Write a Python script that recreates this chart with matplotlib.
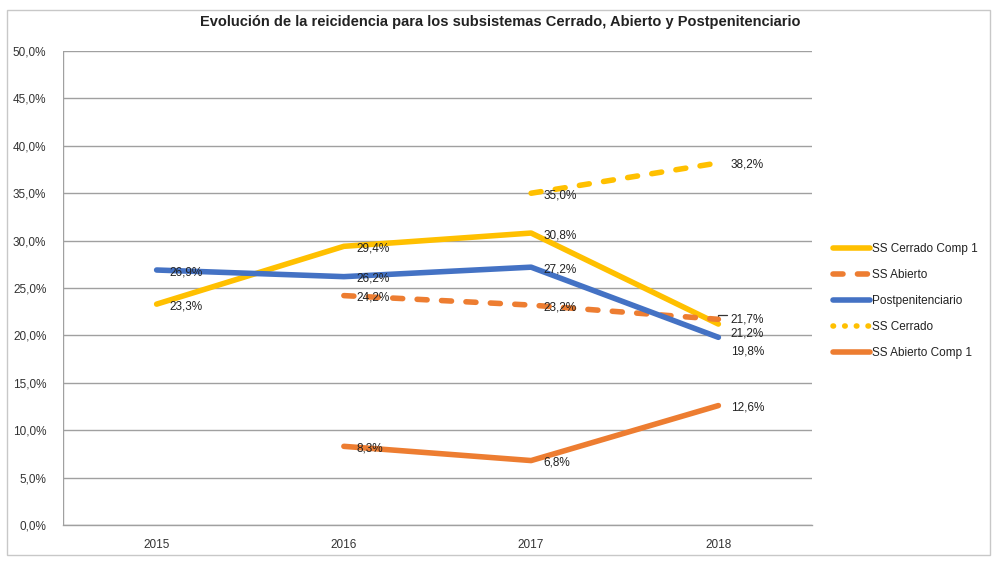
import matplotlib.pyplot as plt
from matplotlib.lines import Line2D
from matplotlib.patches import Rectangle
from matplotlib.ticker import FuncFormatter

plt.rcParams['font.family'] = ['Liberation Sans Narrow', 'Liberation Sans', 'DejaVu Sans']

years = ['2015', '2016', '2017', '2018']
cerrado_comp1 = [23.3, 29.4, 30.8, 21.2]
abierto = [None, 24.2, 23.2, 21.7]
postpenitenciario = [26.9, 26.2, 27.2, 19.8]
cerrado = [None, None, 35.0, 38.2]
abierto_comp1 = [None, 8.3, 6.8, 12.6]

yellow = '#FFC000'
orange = '#ED7D31'
blue = '#4472C4'
dash = (0, (1.8, 2.6))

fig = plt.figure(figsize=(10, 5.62), dpi=100)
fig.patches.append(Rectangle((0.007, 0.012), 0.983, 0.97, transform=fig.transFigure,
                             fill=False, edgecolor='#C8C8C8', linewidth=1))
ax = fig.add_axes([0.063, 0.0658, 0.749, 0.8434])

x = list(range(len(years)))


def pts(vals):
    xs = [i for i, v in enumerate(vals) if v is not None]
    ys = [v for v in vals if v is not None]
    return xs, ys


series = [
    ('cc1', cerrado_comp1, yellow, '-'),
    ('ab', abierto, orange, dash),
    ('post', postpenitenciario, blue, '-'),
    ('cer', cerrado, yellow, dash),
    ('ac1', abierto_comp1, orange, '-'),
]
for name, vals, color, ls in series:
    xs, ys = pts(vals)
    ax.plot(xs, ys, color=color, linestyle=ls, linewidth=4, solid_capstyle='round',
            dash_capstyle='round', zorder=3)

# data labels: extra vertical nudges (points) where labels would collide
label_nudge = {
    ('ab', 3): 1.5,
    ('cc1', 3): -5,
    ('post', 3): -8.5,
}
for name, vals, color, ls in series:
    for i, v in enumerate(vals):
        if v is None:
            continue
        dy = label_nudge.get((name, i), 0)
        ax.annotate(f'{v:.1f}%'.replace('.', ','), (i, v), xytext=(9, -1.5 + dy),
                    textcoords='offset points', fontsize=8.5, color='#222222',
                    va='center', ha='left', zorder=4)

# small leader line next to 21,7%
ax.annotate('', xy=(3, abierto[3]), xytext=(6, 3), textcoords='offset points',
            arrowprops=dict(arrowstyle='-', color='#333333', lw=0.9, shrinkA=0, shrinkB=0,
                            connectionstyle='angle,angleA=0,angleB=90,rad=0'),
            zorder=2)

ax.set_xlim(-0.5, 3.5)
ax.set_ylim(0, 50)
ax.set_xticks(x)
ax.set_xticklabels(years)
ax.set_yticks(range(0, 51, 5))
ax.yaxis.set_major_formatter(FuncFormatter(lambda v, p: f'{v:.1f}%'.replace('.', ',')))
ax.tick_params(axis='both', length=0, labelsize=8.5, colors='#333333')
ax.tick_params(axis='x', pad=10)
ax.tick_params(axis='y', pad=12)
ax.grid(axis='y', color='#A0A0A0', linewidth=1)
ax.set_axisbelow(True)
for s in ['top', 'right', 'left']:
    ax.spines[s].set_visible(False)
ax.spines['bottom'].set_color('#A0A0A0')
ax.spines['bottom'].set_linewidth(1)
ax.axvline(-0.5, color='#A0A0A0', linewidth=1, zorder=0)

handles = [
    Line2D([], [], color=yellow, linewidth=4, solid_capstyle='round'),
    Line2D([], [], color=orange, linewidth=4, linestyle=dash, dash_capstyle='round'),
    Line2D([], [], color=blue, linewidth=4, solid_capstyle='round'),
    Line2D([], [], color=yellow, linewidth=4, linestyle=(0, (0.1, 2.0)), dash_capstyle='round'),
    Line2D([], [], color=orange, linewidth=4, solid_capstyle='round'),
]
names = ['SS Cerrado Comp 1', 'SS Abierto', 'Postpenitenciario', 'SS Cerrado', 'SS Abierto Comp 1']
fig.legend(handles, names, loc='upper left', bbox_to_anchor=(0.822, 0.587), frameon=False,
           fontsize=8.5, handlelength=3.2, handletextpad=0.1, labelspacing=1.2,
           labelcolor='#222222')

fig.text(0.5, 0.96, 'Evolución de la reicidencia para los subsistemas Cerrado, Abierto y Postpenitenciario',
         ha='center', va='center', fontsize=10.5, fontweight='bold', color='#222222')

fig.savefig('out.png', dpi=100)
